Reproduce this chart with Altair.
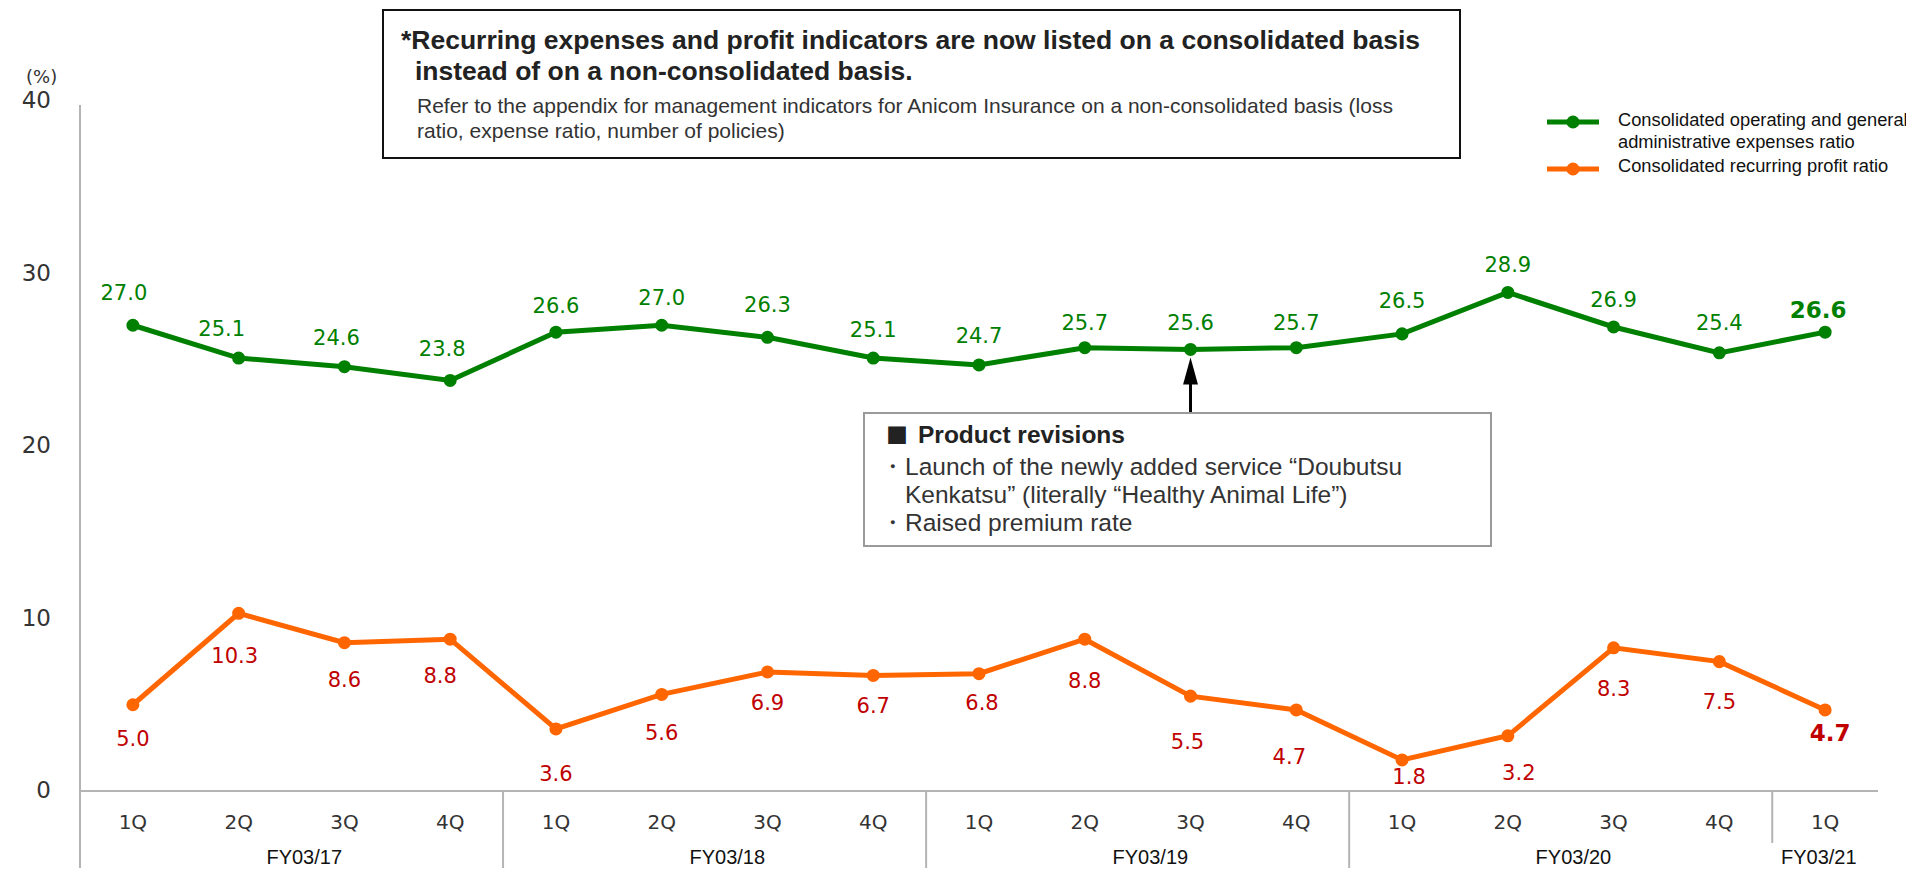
import altair as alt
import pandas as pd

# ---------------- data ----------------
quarters = ["1Q", "2Q", "3Q", "4Q", "1Q", "2Q", "3Q", "4Q", "1Q", "2Q", "3Q", "4Q",
            "1Q", "2Q", "3Q", "4Q", "1Q"]
fiscal_year = (["FY03/17"] * 4 + ["FY03/18"] * 4 + ["FY03/19"] * 4 +
               ["FY03/20"] * 4 + ["FY03/21"])
expense_ratio = [27.0, 25.1, 24.6, 23.8, 26.6, 27.0, 26.3, 25.1, 24.7, 25.7, 25.6,
                 25.7, 26.5, 28.9, 26.9, 25.4, 26.6]
profit_ratio = [5.0, 10.3, 8.6, 8.8, 3.6, 5.6, 6.9, 6.7, 6.8, 8.8, 5.5, 4.7, 1.8,
                3.2, 8.3, 7.5, 4.7]
series_names = ["Consolidated operating and general administrative expenses ratio",
                "Consolidated recurring profit ratio"]
y_ticks = [0, 10, 20, 30, 40]

# label placement (pixels; layout only)
green_dy = [-31, -28, -28, -30, -25, -26, -31, -27, -28, -24, -25, -24, -32, -26, -26, -29, -21]
green_dx = [-9, -17, -8, -8, 0, 0, 0, 0, 0, 0, 0, 0, 0, 0, 0, 0, -7]
orange_dy = [35, 44, 38, 38, 46, 40, 32, 32, 30, 43, 47, 48, 18, 38, 42, 41, 24]
orange_dx = [0, -4, 0, -10, 0, 0, 0, 0, 3, 0, -3, -7, 7, 11, 0, 0, 5]

# ---------------- layout ----------------
W, H = 1798, 690
PX_X = W / 17.0
PX_Y = H / 40.0
GREEN, ORANGE, RED = "#008000", "#FF6600", "#C00000"
AXIS_GRAY = "#B4B4B4"
NUM_FONT = "DejaVu Sans"
TXT_FONT = "Liberation Sans"
CJK_FONT = "Noto Sans CJK JP"

n = len(quarters)
rows = []
for i in range(n):
    rows.append(dict(i=i, q=quarters[i], fy=fiscal_year[i], v=expense_ratio[i],
                     s=series_names[0], dy=green_dy[i], dx=green_dx[i], last=(i == n - 1)))
for i in range(n):
    rows.append(dict(i=i, q=quarters[i], fy=fiscal_year[i], v=profit_ratio[i],
                     s=series_names[1], dy=orange_dy[i], dx=orange_dx[i], last=(i == n - 1)))
df = pd.DataFrame(rows)

xscale = alt.Scale(domain=[-0.5, n - 0.5], nice=False, zero=False)
yscale = alt.Scale(domain=[y_ticks[0], y_ticks[-1]], nice=False, zero=True)

one = alt.Data(values=[{"a": 1}])


def note(text, x, y, size, bold=False, color="#222222", font=TXT_FONT, align="left"):
    return alt.Chart(one).mark_text(
        align=align, baseline="middle", fontSize=size, font=font,
        fontWeight="bold" if bold else "normal", color=color
    ).encode(x=alt.value(x), y=alt.value(y), text=alt.value(text))


base = alt.Chart(df)

# y axis tick labels
ytick_lab = alt.Chart(pd.DataFrame({"t": y_ticks})).mark_text(
    align="right", baseline="middle", font=NUM_FONT, fontSize=23, color="#333333").encode(
    x=alt.value(-29), y=alt.Y("t:Q", scale=yscale, axis=None), text="t:Q")

# axes lines
zero_line = alt.Chart(one).mark_rule(color=AXIS_GRAY, strokeWidth=2).encode(
    x=alt.value(0), x2=alt.value(W), y=alt.Y(datum=0, scale=yscale, axis=None))
y_line = alt.Chart(one).mark_rule(color=AXIS_GRAY, strokeWidth=2).encode(
    x=alt.X(datum=-0.5, scale=xscale, axis=None), y=alt.value(4), y2=alt.value(H + 80))

# group separators from fiscal-year boundaries
bounds = [i - 0.5 for i in range(1, n) if fiscal_year[i] != fiscal_year[i - 1]]
sep = alt.Chart(pd.DataFrame({"b": bounds[:-1]})).mark_rule(
    color=AXIS_GRAY, strokeWidth=2).encode(
    x=alt.X("b:Q", scale=xscale, axis=None), y=alt.value(H), y2=alt.value(H + 80))
sep_last = alt.Chart(pd.DataFrame({"b": bounds[-1:]})).mark_rule(
    color=AXIS_GRAY, strokeWidth=2).encode(
    x=alt.X("b:Q", scale=xscale, axis=None), y=alt.value(H), y2=alt.value(H + 52))

# category labels
qlab = base.transform_filter(alt.datum.s == series_names[0]).mark_text(
    font=NUM_FONT, fontSize=20, color="#333333", baseline="middle").encode(
    x=alt.X("i:Q", scale=xscale, axis=None), y=alt.value(H + 32), text="q:N")

fy_names = list(dict.fromkeys(fiscal_year))
fy_pos = []
for f in fy_names:
    idx = [j for j in range(n) if fiscal_year[j] == f]
    fy_pos.append(sum(idx) / len(idx) + (0.12 if len(idx) > 1 else -0.06))
fy_df = pd.DataFrame({"fy": fy_names, "p": fy_pos})
fylab = alt.Chart(fy_df).mark_text(font=TXT_FONT, fontSize=20, color="#111111",
                                   baseline="middle").encode(
    x=alt.X("p:Q", scale=xscale, axis=None), y=alt.value(H + 67), text="fy:N")

# lines with points
color_scale = alt.Scale(domain=series_names, range=[GREEN, ORANGE])
lines = base.mark_line(strokeWidth=5, point=alt.OverlayMarkDef(size=170, filled=True)).encode(
    x=alt.X("i:Q", scale=xscale, axis=None),
    y=alt.Y("v:Q", scale=yscale, axis=None),
    color=alt.Color("s:N", scale=color_scale, legend=None),
    detail="s:N",
)

# value labels
lab_base = base.transform_calculate(
    lx=alt.datum.i + alt.datum.dx / PX_X,
    ly=alt.datum.v - alt.datum.dy / PX_Y,
)


def vlabels(series, color, bold):
    cond = (alt.datum.s == series) & (alt.datum.last == bold)
    return lab_base.transform_filter(cond).mark_text(
        font=NUM_FONT, fontSize=23 if bold else 21,
        fontWeight="bold" if bold else "normal", color=color, baseline="middle"
    ).encode(
        x=alt.X("lx:Q", scale=xscale, axis=None),
        y=alt.Y("ly:Q", scale=yscale, axis=None),
        text=alt.Text("v:Q", format=".1f"),
    )


labels = [vlabels(series_names[0], GREEN, False), vlabels(series_names[0], GREEN, True),
          vlabels(series_names[1], RED, False), vlabels(series_names[1], RED, True)]

# top note box
top_box = alt.Chart(one).mark_rect(fill="white", stroke="#111111", strokeWidth=2).encode(
    x=alt.value(303), x2=alt.value(1380), y=alt.value(-91), y2=alt.value(57))
top_notes = [
    note("*Recurring expenses and profit indicators are now listed on a consolidated basis",
         321, -60, 26.5, bold=True),
    note("instead of on a non-consolidated basis.", 335, -29, 26.5, bold=True),
    note("Refer to the appendix for management indicators for Anicom Insurance on a "
         "non-consolidated basis (loss", 337, 6, 21, color="#333333"),
    note("ratio, expense ratio, number of policies)", 337, 31, 21, color="#333333"),
]

# product revision box + arrow
ann_box = alt.Chart(one).mark_rect(fill="white", stroke="#9A9A9A", strokeWidth=2).encode(
    x=alt.value(784), x2=alt.value(1411), y=alt.value(312), y2=alt.value(445))
ann_notes = [
    note("\u25A0", 817, 335, 22, bold=False, font=CJK_FONT, align="center"),
    note("Product revisions", 838, 335, 24.5, bold=True),
    note("\u30FBLaunch of the newly added service \u201cDoubutsu", 800, 367, 24.5, color="#333333"),
    note("Kenkatsu\u201d (literally \u201cHealthy Animal Life\u201d)", 825, 395, 24.5, color="#333333"),
    note("\u30FBRaised premium rate", 800, 423, 24.5, color="#333333"),
]
arrow_target = 10
arrow_shaft = alt.Chart(one).mark_rule(color="black", strokeWidth=3).encode(
    x=alt.X(datum=arrow_target, scale=xscale, axis=None), y=alt.value(311), y2=alt.value(280))
arrow_head = alt.Chart(one).mark_point(
    shape="M0,-1L0.55,1L-0.55,1Z", filled=True, color="black", opacity=1, size=729).encode(
    x=alt.X(datum=arrow_target, scale=xscale, axis=None), y=alt.value(270))

# legend
leg_df = pd.DataFrame({"s": series_names, "yy": [21, 68]})
leg_line = alt.Chart(leg_df).mark_rule(strokeWidth=5).encode(
    x=alt.value(1467), x2=alt.value(1519), y=alt.Y("yy:Q", scale=None, axis=None),
    color=alt.Color("s:N", scale=color_scale, legend=None))
leg_pt = alt.Chart(leg_df).mark_point(filled=True, size=170, opacity=1).encode(
    x=alt.value(1493), y=alt.Y("yy:Q", scale=None, axis=None),
    color=alt.Color("s:N", scale=color_scale, legend=None))
leg_text = [
    note("Consolidated operating and general", 1538, 20, 18.3, color="#111111"),
    note("administrative expenses ratio", 1538, 42, 18.3, color="#111111"),
    note("Consolidated recurring profit ratio", 1538, 66, 18.3, color="#111111"),
]

pct = note("(%)", -54, -23, 18, color="#333333", font=NUM_FONT)

chart = alt.layer(
    zero_line, y_line, sep, sep_last, ytick_lab, qlab, fylab,
    top_box, *top_notes, ann_box, *ann_notes, arrow_shaft, arrow_head,
    lines, *labels, leg_line, leg_pt, *leg_text, pct,
).properties(
    width=W, height=H,
    padding={"left": 72, "top": 93, "right": 28, "bottom": 77},
    autosize=alt.AutoSizeParams(type="none"),
    background="white",
).configure_view(stroke=None)

chart.save("out.html", embed_options={"renderer": "svg", "actions": False})
